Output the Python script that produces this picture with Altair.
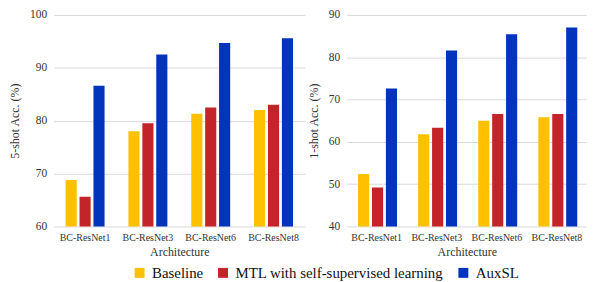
import altair as alt
import pandas as pd

archs = ["BC-ResNet1", "BC-ResNet3", "BC-ResNet6", "BC-ResNet8"]
methods = ["Baseline", "MTL with self-supervised learning", "AuxSL"]
colors = ["#FFC000", "#C3242A", "#0034BC"]

five_baseline = [68.8, 78.0, 81.3, 82.0]
five_mtl = [65.6, 79.5, 82.5, 83.0]
five_auxsl = [86.6, 92.5, 94.7, 95.6]

one_baseline = [52.4, 61.8, 65.0, 65.8]
one_mtl = [49.2, 63.3, 66.6, 66.6]
one_auxsl = [72.6, 81.6, 85.4, 87.0]

def frame(b, m, a):
    rows = []
    for series, name in zip([b, m, a], methods):
        for arch, v in zip(archs, series):
            rows.append({"arch": arch, "method": name, "value": v})
    return pd.DataFrame(rows)

FONT = "Liberation Serif, Times New Roman, DejaVu Serif, serif"

def panel(df, title, dom, w):
    return alt.Chart(df).mark_bar(clip=True).encode(
        x=alt.X("arch:N", sort=archs, title="Architecture",
                scale=alt.Scale(paddingInner=0.38, paddingOuter=0.19),
                axis=alt.Axis(labelAngle=0, labelFontSize=10, titleFontSize=12,
                              labelPadding=6, titlePadding=4, ticks=False,
                              domain=False, labelColor="#333", titleColor="#333",
                              titleFontWeight="normal", labelFont=FONT, titleFont=FONT)),
        xOffset=alt.XOffset("method:N", sort=methods,
                            scale=alt.Scale(paddingInner=0.2, paddingOuter=0)),
        y=alt.Y("value:Q", title=title,
                scale=alt.Scale(domain=dom, nice=False, zero=False),
                axis=alt.Axis(values=list(range(dom[0], dom[1] + 1, 10)),
                              labelFontSize=11.5, titleFontSize=12,
                              labelPadding=7, titlePadding=8, ticks=False,
                              domain=False, gridColor="#D9D9D9",
                              labelColor="#333", titleColor="#333",
                              titleFontWeight="normal", labelFont=FONT, titleFont=FONT)),
        color=alt.Color("method:N", sort=methods,
                        scale=alt.Scale(domain=methods, range=colors),
                        legend=alt.Legend(title=None, orient="none", direction="horizontal",
                                          legendX=79, legendY=252,
                                          symbolType="square", symbolSize=100,
                                          symbolStrokeWidth=0, labelLimit=400,
                                          labelFontSize=15, labelColor="#111",
                                          labelFont=FONT,
                                          columnPadding=12, labelOffset=5)),
    ).properties(width=w, height=213)

left = panel(frame(five_baseline, five_mtl, five_auxsl), "5-shot Acc. (%)", [60, 100], 253)
right = panel(frame(one_baseline, one_mtl, one_auxsl), "1-shot Acc. (%)", [40, 90], 242)

chart = alt.hconcat(left, right, spacing=2).configure(
    font=FONT, padding={"left": 0, "top": 0, "right": 0, "bottom": 0}
).configure_view(stroke=None)

chart.save("out.html", embed_options={"renderer": "svg", "actions": False})
